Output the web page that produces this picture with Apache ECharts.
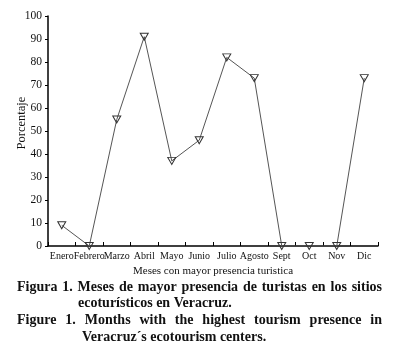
<!DOCTYPE html>
<html>
<head>
<meta charset="utf-8">
<script src="https://cdn.jsdelivr.net/npm/echarts@6/dist/echarts.min.js"></script>
<style>
  html, body { margin: 0; padding: 0; background: #fff; }
  #chart { width: 394px; height: 358px; }
</style>
</head>
<body>
<div id="chart"></div>
<script>
// Meses con mayor presencia turística — line chart with inverted hollow triangles
const months = ["Enero", "Febrero", "Marzo", "Abril", "Mayo", "Junio", "Julio", "Agosto", "Sept", "Oct", "Nov", "Dic"];
const percent = [9, 0, 55, 91, 37, 46, 82, 73, 0, 0, 0, 73];
const yTicks = [0, 10, 20, 30, 40, 50, 60, 70, 80, 90, 100];

const captionLines = [
  { text: "Figura 1. Meses de mayor presencia de turistas en los sitios", x: 17, x2: 382, y: 287, justify: true },
  { text: "ecoturísticos en Veracruz.", x: 78, y: 303, justify: false },
  { text: "Figure 1. Months with the highest tourism presence in", x: 17, x2: 382, y: 320, justify: true },
  { text: "Veracruz´s ecotourism centers.", x: 82, y: 337, justify: false },
];

const SERIF = "'Liberation Serif', 'Times New Roman', serif";
const CAP_FONT = "bold 14px " + SERIF;
const INK = "#111";

// measure words so justified caption lines stretch edge to edge
const ctx = document.createElement("canvas").getContext("2d");
ctx.font = CAP_FONT;

function captionGraphics() {
  const out = [];
  captionLines.forEach(ln => {
    const base = { type: "text", style: { fill: INK, font: CAP_FONT, textVerticalAlign: "middle" } };
    if (!ln.justify) {
      out.push({ ...base, x: ln.x, y: ln.y, style: { ...base.style, text: ln.text } });
      return;
    }
    const words = ln.text.split(" ");
    const widths = words.map(w => ctx.measureText(w).width);
    const total = widths.reduce((a, b) => a + b, 0);
    const gap = (ln.x2 - ln.x - total) / (words.length - 1);
    let cx = ln.x;
    words.forEach((w, i) => {
      out.push({ ...base, x: cx, y: ln.y, style: { ...base.style, text: w } });
      cx += widths[i] + gap;
    });
  });
  return out;
}

const chart = echarts.init(document.getElementById("chart"), null, { renderer: "canvas" });

chart.setOption({
  backgroundColor: "#fff",
  animation: false,
  grid: { left: 48, right: 16, top: 16, bottom: 112 },
  xAxis: {
    type: "category", data: months, boundaryGap: true,
    name: "Meses con mayor presencia turistica", nameLocation: "middle", nameGap: 19,
    nameTextStyle: { color: INK, fontFamily: SERIF, fontSize: 11, verticalAlign: "top" },
    axisLine: { lineStyle: { color: "#000", width: 1.5 } },
    axisTick: { show: true, inside: true, length: 4, lineStyle: { color: "#000" } },
    axisLabel: { color: INK, fontFamily: SERIF, fontSize: 10, margin: 5, interval: 0 },
    splitLine: { show: false },
  },
  yAxis: {
    type: "value", min: 0, max: 100, interval: 10,
    axisLine: { show: true, lineStyle: { color: "#000", width: 1.5 } },
    axisTick: { show: true, length: 3, lineStyle: { color: "#000" } },
    axisLabel: {
      color: INK, fontFamily: SERIF, fontSize: 11.5, margin: 6,
      formatter: v => yTicks.includes(v) ? String(v) : "",
    },
    splitLine: { show: false },
  },
  graphic: [
    {
      type: "text", x: 22, y: 123, rotation: Math.PI / 2,
      style: { text: "Porcentaje", fill: INK, font: "12.5px " + SERIF, textAlign: "center", textVerticalAlign: "middle" },
    },
    ...captionGraphics(),
  ],
  series: [{
    type: "line", data: percent,
    symbol: "triangle", symbolRotate: 180, symbolSize: [8, 7],
    itemStyle: { color: "rgba(255,255,255,0)", borderColor: "#333", borderWidth: 1 },
    lineStyle: { color: "#555", width: 1 },
    z: 1,
  }],
});
</script>
</body>
</html>
